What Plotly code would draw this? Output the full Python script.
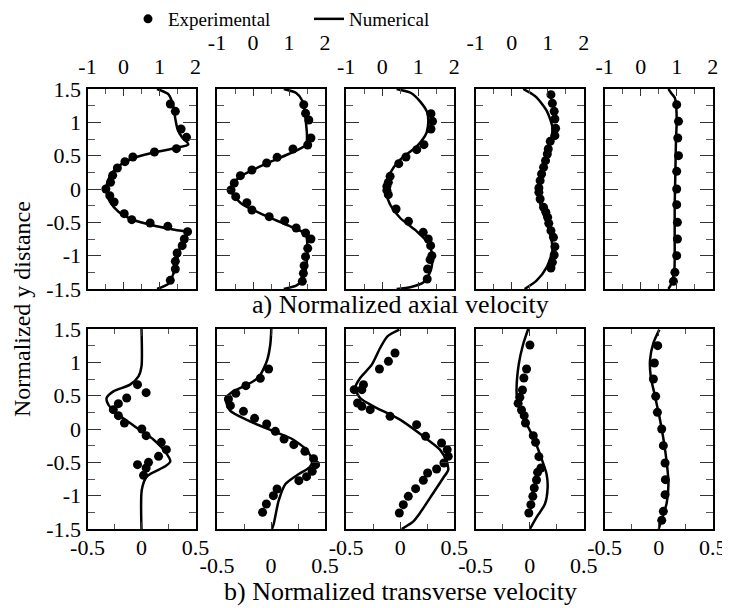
import plotly.graph_objects as go

# ---------------- data: a) normalized axial velocity (5 stations) ----------------
AX1_EXP_U = [1.30, 1.44, 1.60, 1.75, 1.47, 0.86, 0.26, 0.04, -0.17, -0.30, -0.36, -0.49, -0.38, -0.26, 0.02, 0.23, 0.74, 1.23, 1.78, 1.69, 1.63, 1.49, 1.44, 1.44, 1.30]
AX1_EXP_Y = [1.275, 1.165, 0.90, 0.775, 0.605, 0.555, 0.48, 0.41, 0.315, 0.205, 0.10, 0.0, -0.10, -0.195, -0.37, -0.46, -0.51, -0.56, -0.64, -0.75, -0.85, -0.96, -1.085, -1.20, -1.37]
AX1_NUM_U = [0.93, 1.25, 1.38, 1.44, 1.50, 1.62, 1.80, 1.45, 0.86, 0.28, -0.14, -0.38, -0.47, -0.49, -0.47, -0.38, -0.14, 0.28, 0.86, 1.45, 1.78, 1.62, 1.52, 1.46, 1.38, 1.25, 0.93]
AX1_NUM_Y = [1.5, 1.42, 1.25, 1.05, 0.90, 0.78, 0.67, 0.615, 0.55, 0.465, 0.34, 0.19, 0.06, 0.0, -0.06, -0.19, -0.34, -0.465, -0.55, -0.615, -0.655, -0.80, -0.98, -1.15, -1.28, -1.42, -1.5]

AX2_EXP_U = [1.41, 1.46, 1.55, 1.61, 1.52, 1.11, 0.67, 0.38, -0.03, -0.35, -0.52, -0.61, -0.48, -0.17, -0.03, 0.45, 0.88, 1.20, 1.46, 1.61, 1.52, 1.46, 1.42, 1.40, 1.37]
AX2_EXP_Y = [1.265, 1.135, 1.035, 0.765, 0.66, 0.60, 0.475, 0.39, 0.285, 0.20, 0.09, -0.015, -0.115, -0.205, -0.315, -0.415, -0.475, -0.585, -0.66, -0.75, -0.89, -1.015, -1.15, -1.265, -1.385]
AX2_NUM_U = [0.855, 1.20, 1.37, 1.44, 1.47, 1.50, 1.47, 0.99, 0.34, -0.31, -0.57, -0.61, -0.57, -0.31, 0.34, 0.99, 1.46, 1.51, 1.50, 1.46, 1.37, 1.20, 0.855]
AX2_NUM_Y = [1.5, 1.44, 1.325, 1.15, 1.0, 0.80, 0.66, 0.525, 0.375, 0.20, 0.075, 0.0, -0.075, -0.225, -0.40, -0.55, -0.675, -0.85, -1.05, -1.225, -1.375, -1.45, -1.5]

AX3_EXP_U = [1.355, 1.40, 1.355, 1.16, 0.96, 0.66, 0.46, 0.22, 0.17, 0.13, 0.13, 0.17, 0.385, 0.73, 1.14, 1.28, 1.345, 1.38, 1.33, 1.26, 1.25]
AX3_EXP_Y = [1.13, 1.015, 0.90, 0.665, 0.59, 0.48, 0.38, 0.19, 0.10, 0.04, -0.02, -0.085, -0.30, -0.485, -0.65, -0.75, -0.85, -1.0, -1.06, -1.20, -1.35]
AX3_NUM_U = [0.40, 0.80, 1.05, 1.25, 1.28, 1.23, 0.96, 0.50, 0.22, 0.12, 0.11, 0.12, 0.22, 0.50, 0.96, 1.28, 1.40, 1.35, 1.15, 0.80, 0.40]
AX3_NUM_Y = [1.5, 1.44, 1.315, 1.15, 1.0, 0.84, 0.64, 0.44, 0.24, 0.08, 0.0, -0.08, -0.235, -0.435, -0.635, -0.81, -1.01, -1.22, -1.40, -1.47, -1.5]

AX4_EXP_U = [1.09, 1.13, 1.18, 1.20, 1.22, 1.20, 1.07, 1.015, 0.99, 0.94, 0.885, 0.83, 0.79, 0.755, 0.755, 0.79, 0.885, 0.95, 1.0, 1.03, 1.09, 1.16, 1.20, 1.18, 1.13, 1.09]
AX4_EXP_Y = [1.415, 1.285, 1.165, 1.05, 0.91, 0.80, 0.715, 0.60, 0.525, 0.425, 0.325, 0.225, 0.125, 0.015, -0.05, -0.15, -0.275, -0.35, -0.425, -0.515, -0.625, -0.725, -0.865, -0.99, -1.10, -1.185]
AX4_NUM_U = [0.32, 0.55, 0.69, 0.97, 1.13, 1.09, 0.92, 0.78, 0.74, 0.78, 0.92, 1.09, 1.13, 0.97, 0.69, 0.36]
AX4_NUM_Y = [1.5, 1.43, 1.375, 1.175, 0.925, 0.725, 0.425, 0.2, 0.0, -0.2, -0.425, -0.725, -0.925, -1.175, -1.375, -1.5]

AX5_EXP_U = [1.0, 1.05, 1.03, 1.05, 1.0, 1.0, 1.0, 1.02, 1.02, 1.0, 0.95, 0.91]
AX5_EXP_Y = [1.265, 1.015, 0.765, 0.50, 0.265, 0.0, -0.235, -0.50, -0.75, -1.0, -1.25, -1.385]
AX5_NUM_U = [0.77, 0.86, 0.95, 0.99, 1.0, 0.98, 0.963, 0.944, 0.944, 0.935, 0.86, 0.77]
AX5_NUM_Y = [1.5, 1.43, 1.365, 1.2, 1.0, 0.74, 0.24, -0.26, -0.76, -1.21, -1.41, -1.5]

# ---------------- data: b) normalized transverse velocity (5 stations) ----------------
TR1_EXP_V = [-0.037, 0.043, -0.137, -0.214, -0.261, -0.214, -0.158, 0.003, 0.043, 0.183, 0.230, 0.158, 0.065, -0.037, 0.043, 0.019]
TR1_EXP_Y = [0.665, 0.545, 0.465, 0.38, 0.29, 0.20, 0.09, 0.0, -0.10, -0.20, -0.31, -0.41, -0.50, -0.535, -0.585, -0.695]
TR1_NUM_V = [0.0, 0.0, -0.028, -0.106, -0.26, -0.323, -0.307, -0.214, -0.106, 0.003, 0.112, 0.205, 0.267, 0.22, 0.05, 0.003, 0.0]
TR1_NUM_Y = [1.5, 0.94, 0.79, 0.665, 0.565, 0.465, 0.365, 0.215, 0.09, -0.035, -0.16, -0.31, -0.485, -0.56, -0.71, -0.91, -1.5]

TR2_EXP_V = [-0.022, -0.099, -0.233, -0.326, -0.394, -0.376, -0.255, -0.152, -0.040, 0.040, 0.121, 0.211, 0.314, 0.394, 0.413, 0.382, 0.329, 0.258, 0.056, 0.022, -0.043, -0.078]
TR2_EXP_Y = [0.90, 0.76, 0.65, 0.535, 0.45, 0.35, 0.265, 0.16, 0.075, -0.035, -0.15, -0.235, -0.335, -0.445, -0.535, -0.635, -0.715, -0.775, -0.90, -1.0, -1.125, -1.25]
TR2_NUM_V = [0.003, -0.006, -0.037, -0.115, -0.239, -0.363, -0.419, -0.379, -0.208, 0.009, 0.196, 0.335, 0.382, 0.357, 0.258, 0.134, 0.071, 0.025, 0.009]
TR2_NUM_Y = [1.5, 1.275, 1.025, 0.775, 0.65, 0.55, 0.45, 0.275, 0.125, -0.025, -0.15, -0.325, -0.475, -0.575, -0.675, -0.825, -1.075, -1.425, -1.5]

TR3_EXP_V = [-0.048, -0.109, -0.192, -0.340, -0.355, -0.426, -0.395, -0.355, -0.278, -0.094, 0.152, 0.235, 0.383, 0.435, 0.445, 0.405, 0.337, 0.254, 0.214, 0.143, 0.075, 0.029, -0.008]
TR3_EXP_Y = [1.14, 1.015, 0.90, 0.665, 0.59, 0.59, 0.39, 0.34, 0.29, 0.19, 0.065, -0.11, -0.21, -0.31, -0.41, -0.51, -0.60, -0.66, -0.77, -0.895, -1.01, -1.135, -1.26]
TR3_NUM_V = [-0.008, -0.118, -0.186, -0.263, -0.371, -0.417, -0.371, -0.248, -0.002, 0.214, 0.368, 0.429, 0.445, 0.398, 0.306, 0.183, 0.122, 0.014]
TR3_NUM_Y = [1.49, 1.39, 1.215, 0.965, 0.765, 0.615, 0.465, 0.34, 0.14, -0.11, -0.31, -0.485, -0.61, -0.735, -0.96, -1.26, -1.385, -1.5]

TR4_EXP_V = [0.002, -0.029, -0.054, -0.067, -0.091, -0.107, -0.076, -0.051, -0.039, 0.033, 0.054, 0.085, 0.104, 0.073, 0.063, 0.042, 0.029, 0.011, -0.008]
TR4_EXP_Y = [1.26, 0.90, 0.765, 0.585, 0.475, 0.385, 0.285, 0.20, 0.09, -0.10, -0.20, -0.415, -0.585, -0.65, -0.765, -0.885, -1.01, -1.135, -1.26]
TR4_NUM_V = [-0.014, -0.060, -0.101, -0.122, -0.113, -0.060, 0.033, 0.094, 0.156, 0.166, 0.141, 0.063, 0.002]
TR4_NUM_Y = [1.5, 1.275, 0.975, 0.575, 0.40, 0.175, -0.125, -0.375, -0.675, -0.875, -1.125, -1.325, -1.5]

TR5_EXP_V = [-0.009, -0.040, -0.049, -0.028, -0.012, 0.028, 0.043, 0.059, 0.062, 0.059, 0.043, 0.028]
TR5_EXP_Y = [1.25, 0.99, 0.75, 0.49, 0.25, 0.0, -0.25, -0.51, -0.76, -0.985, -1.235, -1.37]
TR5_NUM_V = [0.006, -0.049, -0.080, -0.074, -0.034, 0.012, 0.059, 0.090, 0.074, 0.028, 0.0]
TR5_NUM_Y = [1.49, 1.29, 1.04, 0.79, 0.49, 0.14, -0.31, -0.81, -1.11, -1.36, -1.5]

# ---------------- axis ticks / labels ----------------
AXIAL_TICKS = [-1, 0, 1, 2]
AXIAL_TICKTEXT = ["-1", "0", "1", "2"]
TRANS_TICKS = [-0.5, 0, 0.5]
TRANS_TICKTEXT = ["-0.5", "0", "0.5"]
Y_TICKS = [-1.5, -1, -0.5, 0, 0.5, 1, 1.5]
Y_TICKTEXT = ["-1.5", "-1", "-0.5", "0", "0.5", "1", "1.5"]

LEGEND_EXP = "Experimental"
LEGEND_NUM = "Numerical"
TITLE_A = "a) Normalized axial velocity"
TITLE_B = "b) Normalized transverse velocity"
Y_TITLE = "Normalized y distance"

AXIAL = [(AX1_EXP_U, AX1_EXP_Y, AX1_NUM_U, AX1_NUM_Y),
         (AX2_EXP_U, AX2_EXP_Y, AX2_NUM_U, AX2_NUM_Y),
         (AX3_EXP_U, AX3_EXP_Y, AX3_NUM_U, AX3_NUM_Y),
         (AX4_EXP_U, AX4_EXP_Y, AX4_NUM_U, AX4_NUM_Y),
         (AX5_EXP_U, AX5_EXP_Y, AX5_NUM_U, AX5_NUM_Y)]
TRANS = [(TR1_EXP_V, TR1_EXP_Y, TR1_NUM_V, TR1_NUM_Y),
         (TR2_EXP_V, TR2_EXP_Y, TR2_NUM_V, TR2_NUM_Y),
         (TR3_EXP_V, TR3_EXP_Y, TR3_NUM_V, TR3_NUM_Y),
         (TR4_EXP_V, TR4_EXP_Y, TR4_NUM_V, TR4_NUM_Y),
         (TR5_EXP_V, TR5_EXP_Y, TR5_NUM_V, TR5_NUM_Y)]

# ---------------- layout geometry (page pixels; the page body adds an 8px margin) ----------------
OFF = 8
W, H = 730 - OFF, 608 - OFF
FONT = "Liberation Serif"
PANEL_LEFT = [87.5, 217.0, 346.2, 475.7, 604.7]
PANEL_W = 108.0
TOP_ROW = (89.0, 289.0)
BOT_ROW = (329.0, 529.0)


def fx(px):
    return (px - OFF) / W


def fy(py):
    return 1 - (py - OFF) / H


fig = go.Figure()
layout = {}

axis_common = dict(showline=True, linecolor="black", linewidth=2, mirror="allticks",
                   ticks="inside", tickcolor="#333", tickwidth=1, automargin=False,
                   showgrid=False, zeroline=False,
                   tickfont=dict(family=FONT, size=22, color="black"))

for row, (datasets, xr, xt, xtt, xdt_minor, rowpx, side) in enumerate([
        (AXIAL, [-1, 2], AXIAL_TICKS, AXIAL_TICKTEXT, 0.5, TOP_ROW, "top"),
        (TRANS, [-0.5, 0.5], TRANS_TICKS, TRANS_TICKTEXT, 0.25, BOT_ROW, "bottom")]):
    for i, (ex, ey, nx, ny) in enumerate(datasets):
        k = row * 5 + i + 1
        xa = "x" if k == 1 else f"x{k}"
        ya = "y" if k == 1 else f"y{k}"
        fig.add_trace(go.Scatter(x=nx, y=ny, mode="lines", xaxis=xa, yaxis=ya,
                                 line=dict(color="black", width=2.5, shape="spline", smoothing=0.7),
                                 name=LEGEND_NUM, showlegend=(k == 1), legendrank=2))
        fig.add_trace(go.Scatter(x=ex, y=ey, mode="markers", xaxis=xa, yaxis=ya,
                                 marker=dict(color="black", size=9),
                                 name=LEGEND_EXP, showlegend=(k == 1), legendrank=1))
        if row == 0:
            standoff = 4 if i % 2 == 0 else 28
        else:
            standoff = -2 if i % 2 == 0 else 16
        layout["xaxis" if k == 1 else f"xaxis{k}"] = dict(
            axis_common, domain=[fx(PANEL_LEFT[i]), fx(PANEL_LEFT[i] + PANEL_W)], anchor=ya, side=side,
            range=xr, tickvals=xt, ticktext=xtt, ticklen=7,
            ticklabelstandoff=standoff,
            minor=dict(dtick=xdt_minor, tick0=0, ticks="inside", ticklen=5, tickcolor="#555", tickwidth=1, showgrid=False))
        layout["yaxis" if k == 1 else f"yaxis{k}"] = dict(
            axis_common, domain=[fy(rowpx[1]), fy(rowpx[0])], anchor=xa,
            range=[-1.5, 1.5], tickvals=Y_TICKS, ticktext=Y_TICKTEXT, ticklen=13,
            showticklabels=(i == 0),
            minor=dict(dtick=0.25, tick0=0, ticks="inside", ticklen=7, tickcolor="#555", tickwidth=1, showgrid=False))

fig.update_layout(template="none")
fig.update_layout(**layout)
fig.update_layout(
    width=W, height=H, margin=dict(l=0, r=0, t=0, b=0, autoexpand=False),
    paper_bgcolor="white", plot_bgcolor="white",
    font=dict(family=FONT, size=20, color="black"),
    showlegend=True,
    legend=dict(orientation="h", x=fx(128), y=fy(0), xanchor="left", yanchor="top",
                font=dict(family=FONT, size=19, color="black"),
                bgcolor="rgba(0,0,0,0)", entrywidth=136, entrywidthmode="pixels"),
    annotations=[
        dict(text=TITLE_A, x=fx(400), y=fy(304), xref="paper", yref="paper",
             showarrow=False, xanchor="center", yanchor="middle", font=dict(family=FONT, size=26)),
        dict(text=TITLE_B, x=fx(400), y=fy(591), xref="paper", yref="paper",
             showarrow=False, xanchor="center", yanchor="middle", font=dict(family=FONT, size=26)),
        dict(text=Y_TITLE, x=fx(22), y=fy(309), xref="paper", yref="paper", textangle=-90,
             showarrow=False, xanchor="center", yanchor="middle", font=dict(family=FONT, size=24)),
    ],
)

fig.write_html("out.html")
